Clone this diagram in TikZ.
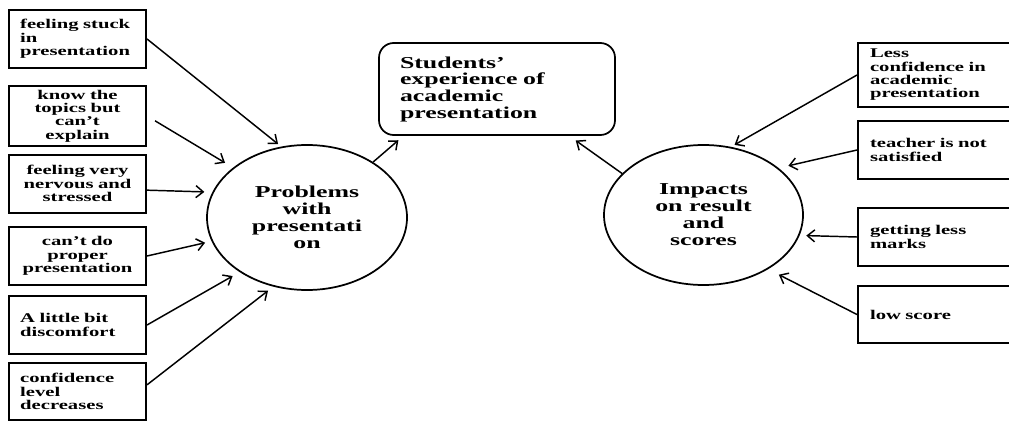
\documentclass[tikz,border=0pt]{standalone}
\usepackage{fontspec}
\setmainfont{Liberation Serif}[FakeStretch=1.55]
\usetikzlibrary{shapes.geometric,arrows.meta}
\tikzset{
  lbox/.style={draw,line width=1.5pt,text width=86pt,inner xsep=8.4pt,minimum height=43.5pt,
    font=\fontsize{10}{10}\selectfont\bfseries},
  rbox/.style={draw,line width=1.5pt,anchor=west,text width=104pt,inner xsep=9pt,align=left,
    font=\fontsize{10}{10}\selectfont\bfseries},
  oval/.style={draw,ellipse,line width=1.3pt,inner sep=0pt,align=center,
    font=\fontsize{12.5}{12.75}\selectfont\bfseries},
  arr/.style={-{Straight Barb[length=5.5pt,width=9pt]},line width=1.1pt}
}
\begin{document}
\begin{tikzpicture}[x=0.75pt,y=-0.75pt]
\useasboundingbox (0,0) rectangle (1009,421);
\node[lbox,align=left] (stuck) at (77.5,39) {feeling stuck\\in\\presentation};
\node[lbox,align=center] (topics) at (77.5,116) {know the\\topics but\\can't\\explain};
\node[lbox,align=center] (nervous) at (77.5,183.5) {feeling very\\nervous and\\stressed};
\node[lbox,align=center] (proper) at (77.5,256) {can't do\\proper\\presentation};
\node[lbox,align=left] (discomfort) at (77.5,325) {A little bit\\discomfort};
\node[lbox,align=left,minimum height=42.75pt] (level) at (77.5,391.5) {confidence\\level\\decreases};
\node[draw,rounded corners=11pt,line width=1.3pt,minimum height=69pt,text width=145.5pt,
  inner xsep=15.75pt,align=left,font=\fontsize{12.5}{12.5}\selectfont\bfseries] (exp) at (497,89)
  {Students'\\experience of\\academic\\presentation};
\node[oval,minimum width=150pt,minimum height=108.75pt] (prob) at (307,217.5)
  {Problems\\with\\presentati\\on};
\node[oval,minimum width=149.25pt,minimum height=105pt] (imp) at (703.5,215)
  {Impacts\\on result\\and\\scores};
\node[rbox,minimum height=48pt] (less) at (857,75) {Less\\confidence in\\academic\\presentation};
\node[rbox,minimum height=43.5pt] (teacher) at (857,150) {teacher is not\\satisfied};
\node[rbox,minimum height=43.5pt] (marks) at (857,237) {getting less\\marks};
\node[rbox,minimum height=42.75pt] (low) at (857,314.5) {low score};
\draw[arr,shorten >=3pt] (stuck.east) -- (prob.110);
\draw[arr,shorten <=7pt,shorten >=7pt] (topics.east) -- (prob.146);
\draw[arr,shorten >=6pt] ([yshift=-5pt]nervous.east) -- (prob.165);
\draw[arr,shorten >=5pt] (proper.east) -- (prob.194);
\draw[arr,shorten >=6pt] (discomfort.east) -- (prob.219);
\draw[arr,shorten >=5pt] ([yshift=5pt]level.east) -- (prob.244);
\draw[arr,shorten >=5pt] (prob.40) -- ([xshift=19pt]exp.south west);
\draw[arr,shorten >=6pt] (imp.153) -- ([xshift=-35pt]exp.south east);
\draw[arr,shorten >=3pt] (less.west) -- (imp.68);
\draw[arr,shorten >=7.5pt] (teacher.west) -- (imp.32);
\draw[arr,shorten >=5pt] (marks.west) -- (imp.-12);
\draw[arr,shorten >=9pt] (low.west) -- (imp.-40);
\end{tikzpicture}
\end{document}
